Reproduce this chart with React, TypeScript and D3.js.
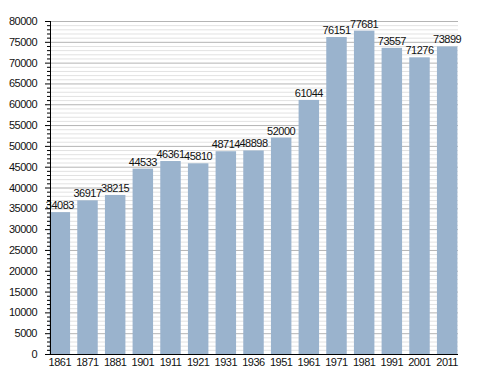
import * as d3 from "d3";
import { useEffect, useRef } from "react";

// census years and population
const years = ["1861", "1871", "1881", "1901", "1911", "1921", "1931", "1936", "1951", "1961", "1971", "1981", "1991", "2001", "2011"];
const population = [34083, 36917, 38215, 44533, 46361, 45810, 48714, 48898, 52000, 61044, 76151, 77681, 73557, 71276, 73899];
const yTicks = [0, 5000, 10000, 15000, 20000, 25000, 30000, 35000, 40000, 45000, 50000, 55000, 60000, 65000, 70000, 75000, 80000];

export default function App() {
  const ref = useRef<SVGSVGElement>(null);

  useEffect(() => {
    const svg = d3.select(ref.current);
    svg.selectAll("*").remove();

    const left = 50, right = 458, top = 21, bottom = 354;
    const font = "'Liberation Sans', Arial, sans-serif";

    const x = d3.scaleBand<string>()
      .domain(years)
      .range([46, 461])
      .paddingInner(0.26)
      .paddingOuter(0.13);

    const y = d3.scaleLinear().domain([0, 80000]).range([bottom, top]);

    // minor gridlines every 1000
    const minor = d3.range(0, 80001, 1000).filter(v => v % 5000 !== 0);
    svg.append("g").selectAll("line").data(minor).enter().append("line")
      .attr("x1", left).attr("x2", right)
      .attr("y1", d => y(d) + 0.5).attr("y2", d => y(d) + 0.5)
      .attr("stroke", "#e2e2e2");

    svg.append("g").selectAll("line").data(yTicks.filter(v => v > 0)).enter().append("line")
      .attr("x1", left).attr("x2", right)
      .attr("y1", d => y(d) + 0.5).attr("y2", d => y(d) + 0.5)
      .attr("stroke", "#b4b4b4");

    // bars
    svg.append("g").selectAll("rect").data(years).enter().append("rect")
      .attr("x", d => x(d)!)
      .attr("width", x.bandwidth())
      .attr("y", (d, i) => y(population[i]))
      .attr("height", (d, i) => bottom - y(population[i]))
      .attr("fill", "#9ab3cd");

    // value labels
    svg.append("g").selectAll("text").data(years).enter().append("text")
      .attr("x", d => x(d)! + x.bandwidth() / 2)
      .attr("y", (d, i) => y(population[i]) - 3)
      .attr("text-anchor", "middle")
      .style("font-family", font)
      .style("font-size", "11px")
      .style("letter-spacing", "-0.5px")
      .attr("fill", "#111")
      .text((d, i) => String(population[i]));

    // y axis with minor ticks
    const yAxis = svg.append("g");
    yAxis.append("line")
      .attr("x1", left + 0.5).attr("x2", left + 0.5)
      .attr("y1", top).attr("y2", bottom)
      .attr("stroke", "#000");
    yAxis.selectAll("line.minor").data(minor).enter().append("line")
      .attr("x1", left - 3).attr("x2", left)
      .attr("y1", d => y(d) + 0.5).attr("y2", d => y(d) + 0.5)
      .attr("stroke", "#000");
    yAxis.selectAll("line.major").data(yTicks).enter().append("line")
      .attr("x1", left - 5).attr("x2", left)
      .attr("y1", d => y(d) + 0.5).attr("y2", d => y(d) + 0.5)
      .attr("stroke", "#000");
    yAxis.selectAll("text").data(yTicks).enter().append("text")
      .attr("x", 37)
      .attr("y", d => y(d) + 4)
      .attr("text-anchor", "end")
      .style("font-family", font)
      .style("font-size", "11px")
      .style("letter-spacing", "-0.5px")
      .attr("fill", "#111")
      .text(d => String(d));

    // x axis
    svg.append("line")
      .attr("x1", left).attr("x2", right)
      .attr("y1", bottom + 0.5).attr("y2", bottom + 0.5)
      .attr("stroke", "#000");
    svg.append("g").selectAll("text").data(years).enter().append("text")
      .attr("x", d => x(d)! + x.bandwidth() / 2)
      .attr("y", 366)
      .attr("text-anchor", "middle")
      .style("font-family", font)
      .style("font-size", "11px")
      .style("letter-spacing", "-0.5px")
      .attr("fill", "#111")
      .text(d => d);
  }, []);

  return (
    <svg ref={ref} width={488} height={373}
      style={{ position: "absolute", left: 0, top: 0, background: "#fff" }} />
  );
}
